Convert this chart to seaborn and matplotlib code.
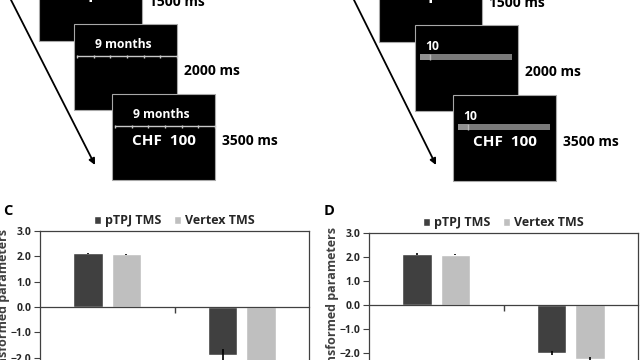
import numpy as np
import pandas as pd
import matplotlib.pyplot as plt
import seaborn as sns
from matplotlib.patches import Rectangle

sns.set_theme(style='white')
plt.rcParams['font.family'] = ['Open Sans', 'DejaVu Sans']
plt.rcParams['font.weight'] = 'bold'

# data
stim_levels = ['pTPJ TMS', 'Vertex TMS']
params = ['parameter 1', 'parameter 2']
c_ptpj = [2.12, -1.90]
c_vertex = [2.08, -2.30]
c_ptpj_err = [0.03, 0.25]
c_vertex_err = [0.03, 0.12]
d_ptpj = [2.12, -2.00]
d_vertex = [2.10, -2.25]
d_ptpj_err = [0.03, 0.10]
d_vertex_err = [0.03, 0.10]
yticks = [-3.0, -2.0, -1.0, 0.0, 1.0, 2.0, 3.0]

durations = ['1500 ms', '2000 ms', '3500 ms']
delay_text = '9 months'
amount_text = 'CHF  100'
slider_text = '10'

dark = '#404040'
light = '#bfbfbf'
txt = '#262626'

fig = plt.figure(figsize=(6.4, 3.6), dpi=100)

# schematic layer in pixel coords
ax0 = fig.add_axes([0, 0, 1, 1])
ax0.set_xlim(0, 640)
ax0.set_ylim(360, 0)
ax0.axis('off')

box_w, box_h = 103, 86


def draw_trial(boxes, arrow, kind):
    for i, (bx, by) in enumerate(boxes):
        ax0.add_patch(Rectangle((bx, by), box_w, box_h, facecolor='black',
                                edgecolor='#a8a8a8', lw=0.8, zorder=2 + i))
        ax0.text(bx + box_w + 7, by + box_h / 2 + 4, durations[i], fontsize=10,
                 fontweight='bold', color='black', va='center', ha='left')
        z = 2.5 + i
        if i == 0:
            ax0.text(bx + box_w / 2, by + box_h / 2 + 1, '+', fontsize=17, color='white',
                     fontweight='bold', ha='center', va='center', zorder=z)
            continue
        if kind == 'delay':
            ax0.text(bx + box_w / 2 - 2, by + 20, delay_text, fontsize=8.7, color='white',
                     fontweight='bold', ha='center', va='center', zorder=z)
            xs = np.linspace(bx + 3, bx + box_w, 7)
            ax0.plot([bx + 3, bx + box_w], [by + 32, by + 32], color='#c8c8c8', lw=1, zorder=z)
            ax0.vlines(xs, by + 30.5, by + 33.5, color='#c8c8c8', lw=1, zorder=z)
        else:
            ax0.text(bx + 10, by + 21, slider_text, fontsize=8.7, color='white',
                     fontweight='bold', ha='left', va='center', zorder=z)
            ax0.add_patch(Rectangle((bx + 5, by + 29), box_w - 11, 6, facecolor='#7a7a7a',
                                    edgecolor='none', zorder=z))
            ax0.add_patch(Rectangle((bx + 5, by + 29), 10, 6, facecolor='#909090',
                                    edgecolor='none', zorder=z))
            ax0.vlines(bx + 15, by + 29, by + 35, color='#b8b8b8', lw=1, zorder=z)
        if i == 2:
            ax0.text(bx + box_w / 2, by + 47, amount_text, fontsize=11, color='white',
                     fontweight='bold', ha='center', va='center', zorder=z)
    ax0.annotate('', xy=arrow[1], xytext=arrow[0],
                 arrowprops=dict(arrowstyle='-|>', color='black', lw=1.3,
                                 mutation_scale=9, shrinkA=0, shrinkB=0), zorder=10)


draw_trial([(39, -45), (74, 24), (112, 94)], [(10, -2), (95, 165)], 'delay')
draw_trial([(379, -44), (415, 25), (453, 95)], [(353, -2), (436, 165)], 'slider')

ax0.text(3, 211, 'C', fontsize=10.5, fontweight='bold', color='black', va='center')
ax0.text(324, 211, 'D', fontsize=10.5, fontweight='bold', color='black', va='center')


def bar_panel(rect, ptpj, vertex, errs, label_x):
    ax = fig.add_axes(rect)
    df = pd.DataFrame({
        'param': params * 2,
        'stim': [stim_levels[0]] * 2 + [stim_levels[1]] * 2,
        'value': ptpj + vertex,
    })
    sns.barplot(data=df, x='param', y='value', hue='stim', palette=[dark, light],
                width=0.57, gap=0.23, errorbar=None, saturation=1, ax=ax)
    for cont, err in zip(ax.containers, errs):
        for bar, e in zip(cont, err):
            xc = bar.get_x() + bar.get_width() / 2
            ax.errorbar(xc, bar.get_y() + bar.get_height(), yerr=e, color='black',
                        lw=1.2, capsize=0, zorder=5)
    ax.set_ylim(-3, 3)
    ax.set_yticks(yticks)
    ax.set_yticklabels([f'{v:.1f}'.replace('-', '\u2212') for v in yticks],
                       fontsize=7.5, fontweight='bold', color=txt)
    ax.set_xlim(-0.5, 1.5)
    ax.set_xticks([0, 1])
    ax.set_xticklabels([])
    ax.set_xticks([0.5], minor=True)
    ax.tick_params(axis='x', which='major', length=0)
    ax.tick_params(axis='x', which='minor', length=4, width=1, color='#404040',
                   direction='out', bottom=True)
    ax.tick_params(axis='y', length=4, width=0.8, color='#404040', direction='out', left=True, pad=2)
    ax.spines['bottom'].set_position(('data', 0))
    for s in ax.spines.values():
        s.set_color('#404040')
        s.set_linewidth(0.9)
    ax.set_xlabel('')
    ax.set_ylabel('Transformed parameters', fontsize=9, fontweight='bold', color='#404040')
    ax.yaxis.set_label_coords(label_x, 0.5)
    sns.move_legend(ax, 'lower center', bbox_to_anchor=(0.5, 1.0), ncol=2, frameon=False,
                    title=None, fontsize=9, handlelength=0.55, handleheight=0.55,
                    handletextpad=0.35, columnspacing=1.0, borderaxespad=0.1, borderpad=0.2)
    for t in ax.get_legend().get_texts():
        t.set_fontweight('bold')
        t.set_color(txt)
    return ax


bar_panel([40 / 640, -23 / 360, 269 / 640, 152 / 360], c_ptpj, c_vertex,
          [c_ptpj_err, c_vertex_err], -0.11)
bar_panel([369 / 640, -17 / 360, 269 / 640, 144 / 360], d_ptpj, d_vertex,
          [d_ptpj_err, d_vertex_err], -0.11)

fig.savefig('out.png', dpi=100)
